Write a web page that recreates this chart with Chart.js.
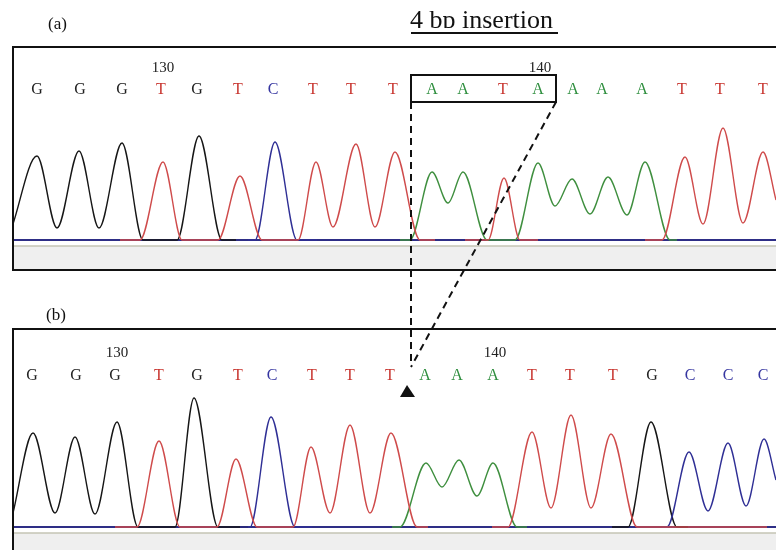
<!DOCTYPE html>
<html>
<head>
<meta charset="utf-8">
<script src="https://cdn.jsdelivr.net/npm/chart.js@4"></script>
<style>
  body { margin: 0; background: #fff; width: 776px; height: 550px; overflow: hidden; position: relative; }
  canvas { position: absolute; }
  svg { position: absolute; left: 0; top: 0; }
  text { font-family: "Liberation Serif", "DejaVu Serif", serif; }
</style>
</head>
<body>
<canvas id="panelA" width="764" height="224" style="left:12px;top:46px"></canvas>
<canvas id="panelB" width="764" height="221" style="left:12px;top:329px"></canvas>
<svg width="776" height="550">
  <defs>
    <clipPath id="titleClip"><rect x="400" y="0" width="180" height="28"/></clipPath>
  </defs>
  <text x="48" y="29" font-size="17" fill="#111">(a)</text>
  <text x="46" y="320" font-size="17" fill="#111">(b)</text>
  <text x="410" y="28" font-size="26" fill="#111" clip-path="url(#titleClip)">4 bp insertion</text>
  <line x1="411" y1="33" x2="558" y2="33" stroke="#111" stroke-width="2"/>
  <!-- panel frames -->
  <line x1="12" y1="47" x2="776" y2="47" stroke="#111" stroke-width="2"/>
  <line x1="13" y1="46" x2="13" y2="271" stroke="#111" stroke-width="2"/>
  <line x1="12" y1="270" x2="776" y2="270" stroke="#111" stroke-width="2"/>
  <line x1="12" y1="329" x2="776" y2="329" stroke="#111" stroke-width="2"/>
  <line x1="13" y1="328" x2="13" y2="550" stroke="#111" stroke-width="2"/>
  <!-- insertion box and arrows -->
  <rect x="411" y="75" width="145" height="27" fill="none" stroke="#111" stroke-width="2"/>
  <line x1="411" y1="102" x2="411" y2="366" stroke="#111" stroke-width="2" stroke-dasharray="7,5"/>
  <line x1="556" y1="102" x2="411" y2="367" stroke="#111" stroke-width="2" stroke-dasharray="7,5"/>
  <polygon points="407,385 400,397 415,397" fill="#111"/>
</svg>
<script>
// scan position (x) and signal intensity (y); [x, null] breaks a trace
const aBases = 'GGGTGTCTTTAATAAAATTT';
const aCalls = [25, 68, 110, 149, 185, 226, 261, 301, 339, 381, 420, 451, 491, 526, 561, 590, 630, 670, 708, 751];
const aFirstBase = 127;
const aTraceG = [[0,130],[25,840],[45,120],[67,890],[87,120],[110,970],[131,0],[165,0],[187,1040],[210,0],[224,0]];
const aTraceT = [[108,0],[128,0],[151,780],[170,0],[206,0],[228,640],[250,0],[286,0],[304,780],[321,130],[344,960],[363,130],[383,880],[408,0],[423,0],[440,null],
                 [453,0],[476,0],[492,620],[508,0],[526,0],[600,null],
                 [633,0],[650,0],[673,830],[691,160],[711,1120],[731,170],[751,880],[764,400]];
const aTraceC = [[236,0],[243,0],[263,980],[285,0],[305,0]];
const aTraceA = [[388,0],[398,0],[420,680],[436,370],[451,680],[475,0],[503,0],[526,770],[543,340],[560,610],[578,260],[596,630],[615,250],[633,780],[658,0],[665,0]];

const bBases = 'GGGTGTCTTTAAATTTGCCC';
const bCalls = [20, 64, 103, 147, 185, 226, 260, 300, 338, 378, 413, 445, 481, 520, 558, 601, 640, 678, 716, 751];
const bFirstBase = 128;
const bTraceG = [[1,140],[21,940],[43,140],[63,900],[83,130],[105,1050],[126,0],[163,0],[182,1290],[206,0],[236,0],[400,null],
                 [600,0],[616,0],[639,1050],[665,0],[676,0]];
const bTraceT = [[103,0],[125,0],[147,860],[168,0],[205,0],[224,680],[245,0],[281,0],[299,800],[318,140],[338,1020],[358,140],[379,940],[405,0],[416,0],[450,null],
                 [480,0],[496,0],[520,950],[539,190],[559,1120],[579,190],[599,930],[625,0],[755,0]];
const bTraceC = [[228,0],[238,0],[259,1100],[283,0],[300,0],[500,null],
                 [650,0],[655,0],[677,750],[696,160],[716,840],[734,210],[752,880],[764,470]];
const bTraceA = [[380,0],[388,0],[414,640],[430,400],[447,670],[465,310],[481,640],[505,0],[515,0]];

const letterColor = { G: '#202020', A: '#2f8f3f', T: '#c8352f', C: '#3535a0' };
const traceColor = { G: '#161616', A: '#3f8f3f', T: '#cf4b4b', C: '#2f2f95' };

const floorPlugin = {
  id: 'floor',
  beforeDatasetsDraw(chart) {
    const { ctx, chartArea: a, scales: { y } } = chart;
    const y0 = y.getPixelForValue(0), y1 = y.getPixelForValue(-60);
    ctx.save();
    ctx.fillStyle = '#efefef';
    ctx.fillRect(a.left, y1, a.right - a.left, a.bottom - y1);
    ctx.strokeStyle = '#c4c4b4';
    ctx.lineWidth = 1.5;
    ctx.beginPath(); ctx.moveTo(a.left, y1); ctx.lineTo(a.right, y1); ctx.stroke();
    ctx.strokeStyle = '#2e2e86';
    ctx.lineWidth = 2;
    ctx.beginPath(); ctx.moveTo(a.left, y0); ctx.lineTo(a.right, y0); ctx.stroke();
    ctx.restore();
  }
};

const callsPlugin = {
  id: 'calls',
  afterDatasetsDraw(chart, args, opts) {
    const { ctx, chartArea: a, scales: { x } } = chart;
    ctx.save();
    ctx.textAlign = 'center';
    ctx.textBaseline = 'alphabetic';
    opts.calls.forEach((pos, i) => {
      const b = opts.bases[i];
      const px = x.getPixelForValue(pos);
      ctx.font = '16px "Liberation Serif", serif';
      ctx.fillStyle = letterColor[b];
      ctx.fillText(b, px, a.top + opts.letterY);
      const n = opts.firstBase + i;
      if (n % 10 === 0) {
        ctx.font = '15px "Liberation Serif", serif';
        ctx.fillStyle = '#222';
        ctx.fillText(String(n), px + 2, a.top + opts.numY);
      }
    });
    ctx.restore();
  }
};

function toPoints(arr) {
  return arr.map(p => ({ x: p[0], y: p[1] }));
}

function makePanel(id, traces, bases, calls, firstBase, yMin, yMax, letterY, numY) {
  const datasets = ['T', 'A', 'C', 'G'].map(b => ({
    label: b,
    data: toPoints(traces[b]),
    borderColor: traceColor[b],
    borderWidth: 1.4,
    pointRadius: 0,
    fill: false,
    spanGaps: false,
    cubicInterpolationMode: 'monotone'
  }));
  return new Chart(document.getElementById(id), {
    type: 'line',
    data: { datasets },
    options: {
      responsive: false,
      animation: false,
      devicePixelRatio: 1,
      layout: { padding: 0 },
      scales: {
        x: { type: 'linear', min: 0, max: 764, display: false },
        y: { min: yMin, max: yMax, display: false }
      },
      plugins: {
        legend: { display: false },
        tooltip: { enabled: false },
        calls: { bases, calls, firstBase, letterY, numY }
      }
    },
    plugins: [floorPlugin, callsPlugin]
  });
}

makePanel('panelA', { G: aTraceG, T: aTraceT, C: aTraceC, A: aTraceA }, aBases, aCalls, aFirstBase, -300, 1940, 48, 26);
makePanel('panelB', { G: bTraceG, T: bTraceT, C: bTraceC, A: bTraceA }, bBases, bCalls, bFirstBase, -230, 1980, 51, 28);
</script>
</body>
</html>
